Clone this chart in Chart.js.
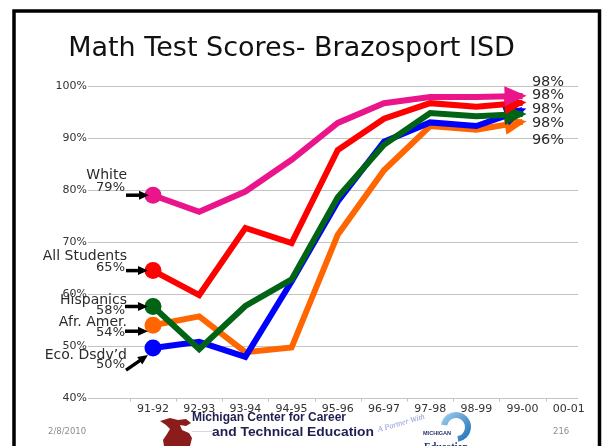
<!DOCTYPE html>
<html><head><meta charset="utf-8">
<script src="https://cdn.jsdelivr.net/npm/chart.js@4/dist/chart.umd.min.js"></script>
<style>
html,body{margin:0;padding:0;background:#fff;}
#wrap{position:relative;width:602px;height:446px;overflow:hidden;background:#fff;}
canvas{position:absolute;left:0;top:0;}
</style></head><body>
<div id="wrap"><canvas id="c" width="602" height="446"></canvas></div>
<script>
// ---- data ----
const categories = ['91-92','92-93','93-94','94-95','95-96','96-97','97-98','98-99','99-00','00-01'];
const white            = [79.0, 75.8, 79.7, 85.8, 92.9, 96.7, 97.9, 97.9, 98.1];
const allStudents      = [64.5, 59.8, 72.7, 69.8, 87.7, 93.7, 96.7, 96.0, 96.8];
const hispanics        = [57.6, 49.4, 57.7, 62.8, 78.6, 88.7, 94.8, 94.2, 94.6];
const africanAmerican  = [54.0, 55.7, 48.8, 49.7, 71.4, 83.8, 92.3, 91.6, 93.1];
const ecoDisadvantaged = [49.6, 50.8, 47.9, 62.4, 77.8, 89.3, 93.0, 92.3, 95.4];
const groupNames  = ['White', 'All Students', 'Hispanics', 'Afr. Amer.', "Eco. Dsdv\u2019d"];
const startLabels = ['79%', '65%', '58%', '54%', '50%'];
const endLabels   = ['98%', '98%', '98%', '98%', '96%'];
const yTicks = [40, 50, 60, 70, 80, 90, 100];
const chartTitle = 'Math Test Scores- Brazosport ISD';
const footerDate = '2/8/2010';
const footerPage = '216';

const colors = ['#EA148B', '#FF0000', '#006414', '#0000FF', '#FF6600'];
const series = [white, allStudents, hispanics, ecoDisadvantaged, africanAmerican];
const seriesGroupIdx = [0, 1, 2, 4, 3];
const seriesColors = [colors[0], colors[1], colors[2], colors[3], colors[4]];

const datasets = series.map((vals, k) => ({
  data: vals.map((v, i) => ({x: i, y: v})),
  borderColor: seriesColors[k],
  backgroundColor: seriesColors[k],
  borderWidth: 6,
  borderJoinStyle: 'miter',
  borderCapStyle: 'butt',
  tension: 0,
  fill: false,
  pointRadius: vals.map((v, i) => i === 0 ? 8.5 : 0),
  pointHoverRadius: 0,
  pointBorderWidth: 0,
  pointBackgroundColor: seriesColors[k]
}));

const FONT = 'DejaVu Sans';

// arrowheads at the end of each line (drawn per dataset to keep layering)
const arrowPlugin = {
  id: 'arrows',
  afterDatasetDraw(chart, args) {
    const pts = args.meta.data;
    if (pts.length < 2) return;
    const p = pts[pts.length - 1], q = pts[pts.length - 2];
    const dx = p.x - q.x, dy = p.y - q.y, len = Math.hypot(dx, dy);
    const ux = dx / len, uy = dy / len;
    const tipX = p.x + 4 * ux, tipY = p.y + 4 * uy;
    const bx = p.x - 18 * ux, by = p.y - 18 * uy;
    const hw = 10;
    const ctx = chart.ctx;
    ctx.save();
    ctx.fillStyle = args.meta.dataset.options.borderColor;
    ctx.beginPath();
    ctx.moveTo(tipX, tipY);
    ctx.lineTo(bx - uy * hw, by + ux * hw);
    ctx.lineTo(bx + uy * hw, by - ux * hw);
    ctx.closePath();
    ctx.fill();
    ctx.restore();
  }
};

function drawArrow(ctx, x0, y0, x1, y1) {
  const dx = x1 - x0, dy = y1 - y0, len = Math.hypot(dx, dy);
  const ux = dx / len, uy = dy / len;
  const hl = 10, hw = 4.5;
  const bx = x1 - ux * hl, by = y1 - uy * hl;
  ctx.save();
  ctx.strokeStyle = '#000';
  ctx.fillStyle = '#000';
  ctx.lineWidth = 3.5;
  ctx.beginPath();
  ctx.moveTo(x0, y0);
  ctx.lineTo(bx + ux, by + uy);
  ctx.stroke();
  ctx.beginPath();
  ctx.moveTo(x1, y1);
  ctx.lineTo(bx - uy * hw, by + ux * hw);
  ctx.lineTo(bx + uy * hw, by - ux * hw);
  ctx.closePath();
  ctx.fill();
  ctx.restore();
}

function fitText(ctx, text, x, y, w, font, color) {
  ctx.save();
  ctx.font = font;
  ctx.fillStyle = color;
  ctx.textBaseline = 'middle';
  ctx.textAlign = 'left';
  const m = ctx.measureText(text).width;
  ctx.translate(x, y);
  ctx.scale(w / m, 1);
  ctx.fillText(text, 0, 0);
  ctx.restore();
}

// layout of the annotation texts next to each start point (name, pct) relative to point
const annoLayout = [
  {nameDy: -20, pctDy: -8,  arrow: [-27, 0, -4, 0]},
  {nameDy: -14, pctDy: -3,  arrow: [-27, 0, -5, 0]},
  {nameDy: -6,  pctDy: 4,   arrow: [-28, 0, -5, 0]},
  {nameDy: -3,  pctDy: 7,   arrow: [-28, 6, -5, 6]},
  {nameDy: 7,   pctDy: 17,  arrow: [-27, 22, -5, 7]}
];

const annoPlugin = {
  id: 'anno',
  afterDatasetsDraw(chart) {
    const ctx = chart.ctx;
    for (let g = 0; g < groupNames.length; g++) {
      const k = seriesGroupIdx.indexOf(g);
      const p = chart.getDatasetMeta(k).data[0];
      const L = annoLayout[g];
      ctx.save();
      ctx.fillStyle = '#2b2b2b';
      ctx.textAlign = 'right';
      ctx.textBaseline = 'middle';
      ctx.font = '14px "' + FONT + '"';
      ctx.fillText(groupNames[g], p.x - 26, p.y + L.nameDy);
      ctx.font = '13px "' + FONT + '"';
      ctx.fillText(startLabels[g], p.x - 28, p.y + L.pctDy);
      ctx.restore();
      drawArrow(ctx, p.x + L.arrow[0], p.y + L.arrow[1], p.x + L.arrow[2], p.y + L.arrow[3]);
    }
    const endY = [82, 95, 109, 123, 140];
    ctx.save();
    ctx.fillStyle = '#2b2b2b';
    ctx.textAlign = 'center';
    ctx.textBaseline = 'middle';
    ctx.font = '14.5px "' + FONT + '"';
    endLabels.forEach((t, i) => ctx.fillText(t, 548, endY[i]));
    ctx.restore();
  },
  afterDraw(chart) {
    const ctx = chart.ctx;
    const xs = chart.scales.x, ys = chart.scales.y;
    ctx.save();
    ctx.strokeStyle = '#c0c0c0';
    ctx.lineWidth = 1;
    const yb = Math.round(ys.getPixelForValue(40)) + 0.5;
    for (let i = 0; i < 10; i++) {
      const x = Math.round(xs.getPixelForValue(i - 0.5)) + 0.5;
      ctx.beginPath(); ctx.moveTo(x, yb); ctx.lineTo(x, yb + 3); ctx.stroke();
    }
    ctx.restore();
    // title
    ctx.save();
    ctx.fillStyle = '#111';
    ctx.textAlign = 'center';
    ctx.textBaseline = 'alphabetic';
    ctx.font = '27px "' + FONT + '"';
    ctx.fillText(chartTitle, 291.5, 56);
    ctx.restore();
    // frame
    ctx.save();
    ctx.strokeStyle = '#000';
    ctx.lineWidth = 3.5;
    ctx.strokeRect(14, 11, 585.5, 480);
    ctx.restore();
    // footer
    ctx.save();
    ctx.fillStyle = '#8c8c8c';
    ctx.textBaseline = 'middle';
    ctx.textAlign = 'left';
    ctx.font = '8.5px "' + FONT + '"';
    ctx.fillText(footerDate, 48, 432);
    ctx.fillText(footerPage, 553, 432);
    ctx.restore();
    // logo: map silhouette
    ctx.save();
    ctx.fillStyle = '#8a1c1c';
    ctx.beginPath();
    ctx.moveTo(160, 421); ctx.lineTo(170, 418); ctx.lineTo(178, 420); ctx.lineTo(186, 419);
    ctx.lineTo(191, 423); ctx.lineTo(186, 426); ctx.lineTo(180, 425); ctx.lineTo(182, 430);
    ctx.lineTo(189, 433); ctx.lineTo(192, 438); ctx.lineTo(190, 446);
    ctx.lineTo(164, 446); ctx.lineTo(163, 440); ctx.lineTo(167, 434); ctx.lineTo(170, 429);
    ctx.lineTo(166, 425); ctx.closePath();
    ctx.fill();
    ctx.strokeStyle = '#d8d8d8'; ctx.lineWidth = 1;
    ctx.beginPath(); ctx.moveTo(192, 431.5); ctx.lineTo(212, 431.5); ctx.stroke();
    ctx.restore();
    fitText(ctx, 'Michigan Center for Career', 192, 418, 154, 'bold 12px "Liberation Sans"', '#1e1e50');
    fitText(ctx, 'and Technical Education', 212, 433, 162, 'bold 12px "Liberation Sans"', '#1e1e50');
    ctx.save();
    ctx.translate(378, 430);
    ctx.rotate(-0.28);
    ctx.fillStyle = '#8a97cf';
    ctx.font = 'italic 8px "Liberation Serif"';
    ctx.textBaseline = 'middle';
    ctx.fillText('A Partner With', 0, 0);
    ctx.restore();
    ctx.save();
    const grd = ctx.createLinearGradient(440, 412, 470, 440);
    grd.addColorStop(0, '#a8d6f2'); grd.addColorStop(1, '#1f6fb8');
    ctx.strokeStyle = grd; ctx.lineWidth = 6;
    ctx.beginPath(); ctx.arc(456, 427, 12, Math.PI * 1.05, Math.PI * 0.45); ctx.stroke();
    ctx.restore();
    fitText(ctx, 'MICHIGAN', 423, 433, 28, 'bold 6px "Liberation Sans"', '#27306a');
    fitText(ctx, 'Education', 424, 448, 44, 'bold 12px "Liberation Serif"', '#27306a');
  }
};

new Chart(document.getElementById('c'), {
  type: 'line',
  data: { datasets },
  options: {
    responsive: false,
    animation: false,
    devicePixelRatio: 1,
    layout: { padding: { left: 13, right: 24, top: 86, bottom: 0 } },
    plugins: { legend: { display: false }, tooltip: { enabled: false }, title: { display: false } },
    scales: {
      x: {
        type: 'linear',
        bounds: 'data',
        min: -1.407,
        max: 9.2,
        afterFit: s => { s.height = 48; },
        afterBuildTicks: s => { s.ticks = categories.map((c, i) => ({ value: i })); },
        ticks: {
          callback: v => categories[v] !== undefined ? categories[v] : '',
          font: { family: FONT, size: 11 },
          color: '#333',
          padding: 5,
          maxRotation: 0,
          autoSkip: false
        },
        grid: { display: false, drawTicks: false },
        border: { display: false }
      },
      y: {
        min: 40,
        max: 100,
        afterFit: s => { s.width = 75; },
        afterBuildTicks: s => { s.ticks = yTicks.map(v => ({ value: v })); },
        ticks: {
          callback: v => v + '%',
          font: { family: FONT, size: 11 },
          color: '#333',
          padding: 1
        },
        grid: { color: '#c4c4c4', lineWidth: 1, drawTicks: false },
        border: { display: false }
      }
    }
  },
  plugins: [arrowPlugin, annoPlugin]
});
</script>
</body></html>
